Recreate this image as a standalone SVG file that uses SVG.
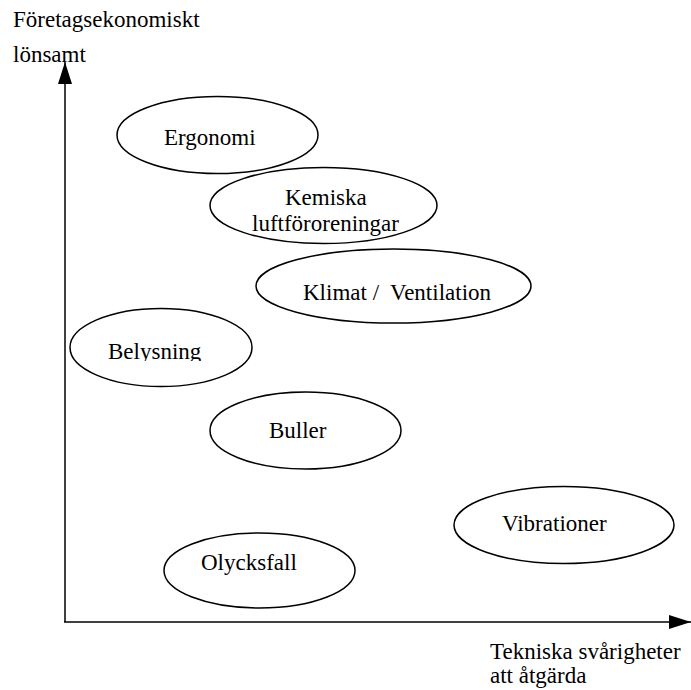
<svg xmlns="http://www.w3.org/2000/svg" width="691" height="690" viewBox="0 0 691 690">
<style>
text{font-family:"Liberation Serif","Times New Roman",serif;font-size:23px;fill:#000}
.n ellipse{fill:#fff;stroke:#000;stroke-width:1.5}
.ax{stroke:#000;stroke-width:1.5;fill:none}
</style>
<defs>
<marker id="ah" markerWidth="22" markerHeight="14" refX="22" refY="7" orient="auto" markerUnits="userSpaceOnUse">
<path d="M0,0 L22,7 L0,14 Z" fill="#000"/>
</marker>
<clipPath id="clipBel"><rect x="60" y="300" width="200" height="61"/></clipPath>
</defs>
<rect width="691" height="690" fill="#fff"/>
<g id="labels">
<text x="13" y="27">Företagsekonomiskt</text>
<text x="13" y="62">lönsamt</text>
<text x="490" y="659">Tekniska svårigheter</text>
<text x="490" y="683">att åtgärda</text>
</g>
<g id="connectors">
<line class="ax" x1="65" y1="622" x2="65" y2="62" marker-end="url(#ah)"/>
<line class="ax" x1="64" y1="622" x2="691" y2="622" marker-end="url(#ah)"/>
</g>
<g id="ergonomi" class="n"><ellipse cx="217.5" cy="135" rx="100.5" ry="38.5"/><text x="164" y="145">Ergonomi</text></g>
<g id="kemiska" class="n"><ellipse cx="323.5" cy="205.5" rx="113.5" ry="38"/><text x="285" y="205">Kemiska</text><text x="252" y="231">luftföroreningar</text></g>
<g id="klimat" class="n"><ellipse cx="393.5" cy="286" rx="137.5" ry="37"/><text x="303" y="300" xml:space="preserve">Klimat /  Ventilation</text></g>
<g id="belysning" class="n"><ellipse cx="161" cy="347.5" rx="91" ry="39"/><text x="108" y="359" clip-path="url(#clipBel)">Belysning</text></g>
<g id="buller" class="n"><ellipse cx="305.5" cy="430.5" rx="95.5" ry="38.5"/><text x="269" y="438">Buller</text></g>
<g id="vibrationer" class="n"><ellipse cx="564" cy="525" rx="110" ry="38.5"/><text x="502" y="531">Vibrationer</text></g>
<g id="olycksfall" class="n"><ellipse cx="259.5" cy="570.5" rx="95.5" ry="37.5"/><text x="201" y="570">Olycksfall</text></g>
</svg>
